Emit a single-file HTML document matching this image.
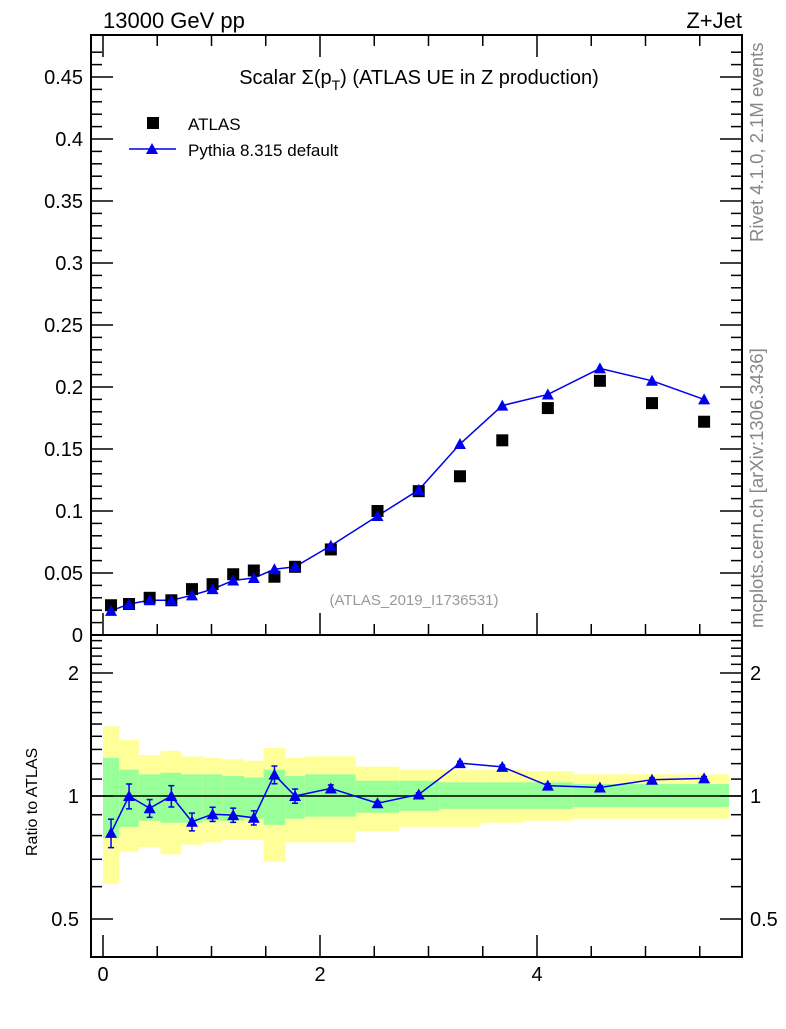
<!DOCTYPE html>
<html><head><meta charset="utf-8"><style>
body{margin:0;background:#fff;}
svg text{font-family:"Liberation Sans",sans-serif;}
</style></head><body>
<svg id="c" width="786" height="1024" xmlns="http://www.w3.org/2000/svg"></svg>
<script>
const xCenters=[0.074,0.24,0.43,0.63,0.82,1.01,1.2,1.39,1.58,1.77,2.1,2.53,2.91,3.29,3.68,4.1,4.58,5.06,5.54];
const binEdges=[0,0.15,0.33,0.53,0.72,0.92,1.1,1.3,1.48,1.68,1.86,2.33,2.73,3.1,3.48,3.88,4.33,4.83,5.3,5.77];
const atlasValues=[0.024,0.025,0.030,0.028,0.037,0.041,0.049,0.052,0.047,0.055,0.069,0.100,0.116,0.128,0.157,0.183,0.205,0.187,0.172];
const pythiaValues=[0.0195,0.025,0.028,0.028,0.032,0.037,0.044,0.046,0.053,0.055,0.072,0.096,0.117,0.154,0.185,0.194,0.215,0.205,0.190];
const ratioErr=[0.08,0.07,0.05,0.06,0.05,0.04,0.04,0.04,0.05,0.04,0.02,0.01,0.01,0.01,0.01,0.01,0.01,0.01,0.01];
const greenHi=[1.24,1.16,1.13,1.14,1.13,1.13,1.12,1.11,1.16,1.12,1.13,1.09,1.09,1.08,1.08,1.08,1.07,1.07,1.07];
const greenLo=[0.79,0.84,0.87,0.86,0.86,0.87,0.87,0.88,0.85,0.88,0.89,0.91,0.92,0.93,0.93,0.93,0.94,0.94,0.94];
const yellowHi=[1.48,1.37,1.26,1.29,1.25,1.24,1.23,1.22,1.31,1.24,1.25,1.18,1.16,1.16,1.16,1.15,1.13,1.13,1.13];
const yellowLo=[0.61,0.73,0.75,0.72,0.76,0.77,0.78,0.78,0.69,0.77,0.77,0.82,0.84,0.84,0.86,0.87,0.88,0.88,0.88];
const mainTicks=[0,0.05,0.1,0.15,0.2,0.25,0.3,0.35,0.4,0.45];
const mainTickLabels=["0","0.05","0.1","0.15","0.2","0.25","0.3","0.35","0.4","0.45"];
const ratioTicks=[0.5,1,2];
const ratioTickLabels=["0.5","1","2"];
const xTicks=[0,2,4];
const xTickLabels=["0","2","4"];

const NS="http://www.w3.org/2000/svg";
const svg=document.getElementById('c');
const L=91,R=742,T=35,M=635,B=957;
const X=v=>103+108.5*v;
const Y=v=>635-1240*v;
const RY=v=>796-123*Math.log2(v);
function el(tag,attrs,parent){const e=document.createElementNS(NS,tag);for(const k in attrs)e.setAttribute(k,attrs[k]);(parent||svg).appendChild(e);return e;}
function txt(s,attrs){const e=el('text',attrs);e.textContent=s;return e;}

for(let i=0;i<xCenters.length;i++){
  const x0=X(binEdges[i]),x1=X(binEdges[i+1]);
  const yb=el('rect',{x:x0,y:RY(yellowHi[i]),width:x1-x0,height:RY(yellowLo[i])-RY(yellowHi[i]),fill:'#ffff99'});
  
  
  const gb=el('rect',{x:x0,y:RY(greenHi[i]),width:x1-x0,height:RY(greenLo[i])-RY(greenHi[i]),fill:'#99ff99'});
  
  
}
el('line',{x1:L,x2:R,y1:RY(1),y2:RY(1),stroke:'#000','stroke-width':1.5});

const f1=el('rect',{x:L,y:T,width:R-L,height:M-T,fill:'none',stroke:'#000','stroke-width':2});

const f2=el('rect',{x:L,y:M,width:R-L,height:B-M,fill:'none',stroke:'#000','stroke-width':2});


for(let v=0;v<=0.48;v+=0.01){
  const major=Math.abs(v/0.05-Math.round(v/0.05))<1e-6;
  const len=major?22:11;const y=Y(v);
  el('line',{x1:L,x2:L+len,y1:y,y2:y,stroke:'#000','stroke-width':1.5});
  el('line',{x1:R,x2:R-len,y1:y,y2:y,stroke:'#000','stroke-width':1.5});
}
mainTicks.forEach((v,i)=>{const t=txt(mainTickLabels[i],{x:83,y:Y(v)+7,'text-anchor':'end','font-size':20});});
const rmin=[0.5,0.6,0.7,0.8,0.9,1,1.1,1.2,1.3,1.4,1.5,1.6,1.7,1.8,1.9,2,2.1,2.2,2.3,2.4];
rmin.forEach(v=>{const major=ratioTicks.includes(v);const len=major?22:11;const y=RY(v);
  el('line',{x1:L,x2:L+len,y1:y,y2:y,stroke:'#000','stroke-width':1.5});
  el('line',{x1:R,x2:R-len,y1:y,y2:y,stroke:'#000','stroke-width':1.5});});
ratioTicks.forEach((v,i)=>{
  const t=txt(ratioTickLabels[i],{x:79,y:RY(v)+7,'text-anchor':'end','font-size':20});
  const t2=txt(ratioTickLabels[i],{x:750,y:RY(v)+7,'font-size':20});
});
for(let v=0;v<=5.8;v+=0.5){const x=X(v);const major=Math.abs(v%2)<1e-6;const len=major?22:11;
  [M,B].forEach(b=>el('line',{x1:x,x2:x,y1:b,y2:b-len,stroke:'#000','stroke-width':1.5}));
  el('line',{x1:x,x2:x,y1:T,y2:T+len,stroke:'#000','stroke-width':1.5});
}
xTicks.forEach((v,i)=>{const t=txt(xTickLabels[i],{x:X(v),y:981,'text-anchor':'middle','font-size':20});});

const pts=xCenters.map((x,i)=>X(x)+','+Y(pythiaValues[i])).join(' ');
const pl=el('polyline',{points:pts,fill:'none',stroke:'#0000ee','stroke-width':1.5});

function tri(x,y,name){const p=el('polygon',{points:`${x},${y-6} ${x-6},${y+5} ${x+6},${y+5}`,fill:'#0000ee'});}
xCenters.forEach((x,i)=>{
  const r=el('rect',{x:X(x)-6,y:Y(atlasValues[i])-6,width:12,height:12,fill:'#000'});
  
  tri(X(x),Y(pythiaValues[i]),'pythia-point');
});
const ratios=xCenters.map((x,i)=>pythiaValues[i]/atlasValues[i]);
const rl=el('polyline',{points:xCenters.map((x,i)=>X(x)+','+RY(ratios[i])).join(' '),fill:'none',stroke:'#0000ee','stroke-width':1.5});

xCenters.forEach((x,i)=>{
  const cx=X(x),y1=RY(ratios[i]*(1+ratioErr[i])),y2=RY(ratios[i]*(1-ratioErr[i]));
  el('line',{x1:cx,x2:cx,y1:y1,y2:y2,stroke:'#0000ee','stroke-width':1.5});
  el('line',{x1:cx-3,x2:cx+3,y1:y1,y2:y1,stroke:'#0000ee','stroke-width':1.5});
  el('line',{x1:cx-3,x2:cx+3,y1:y2,y2:y2,stroke:'#0000ee','stroke-width':1.5});
  tri(cx,RY(ratios[i]),'ratio-point');
});
</script>
<svg width="786" height="1024" style="position:absolute;left:0;top:0" xmlns="http://www.w3.org/2000/svg">
<text x="103" y="28" font-size="22" font-family="Liberation Sans">13000 GeV pp</text>
<text x="742" y="28" font-size="22" text-anchor="end" font-family="Liberation Sans">Z+Jet</text>
<text x="419" y="84" font-size="20" text-anchor="middle" font-family="Liberation Sans">Scalar Σ(p<tspan font-size="14" dy="6">T</tspan><tspan dy="-6">) (ATLAS UE in Z production)</tspan></text>
<rect x="147" y="117" width="12" height="12" fill="#000"/>
<text x="188" y="130" font-size="17" font-family="Liberation Sans">ATLAS</text>
<line x1="129" x2="176" y1="149" y2="149" stroke="#0000ee" stroke-width="1.5"/>
<polygon points="152,143 146,154 158,154" fill="#0000ee"/>
<text x="188" y="156" font-size="17" font-family="Liberation Sans">Pythia 8.315 default</text>
<text x="414" y="605" font-size="15" fill="#999" text-anchor="middle" font-family="Liberation Sans">(ATLAS_2019_I1736531)</text>
<text transform="translate(763,242) rotate(-90)" font-size="18.5" fill="#888" font-family="Liberation Sans">Rivet 4.1.0,  2.1M events</text>
<text transform="translate(763,628) rotate(-90)" font-size="18.5" fill="#888" font-family="Liberation Sans">mcplots.cern.ch [arXiv:1306.3436]</text>
<text transform="translate(37,856) rotate(-90)" font-size="16" font-family="Liberation Sans">Ratio to ATLAS</text>
</svg>
</body></html>
